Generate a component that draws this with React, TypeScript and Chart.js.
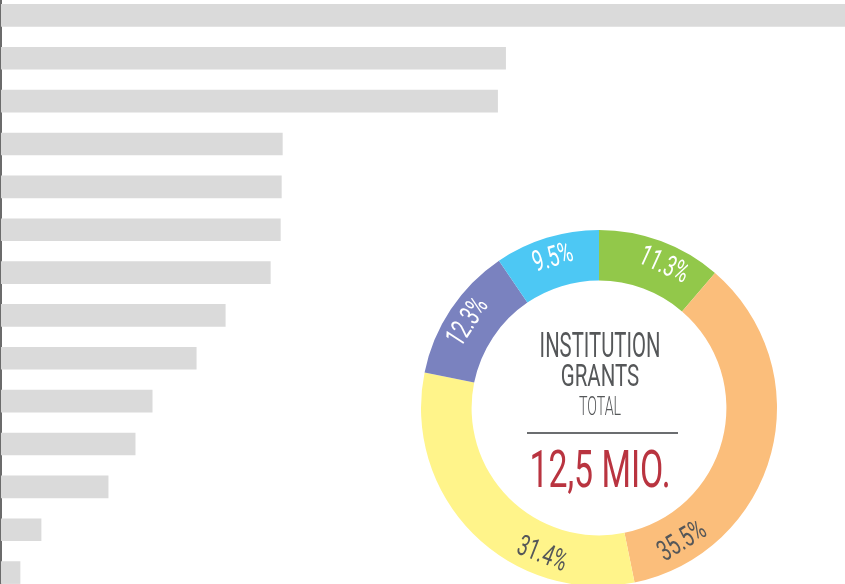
import React, { useEffect, useRef } from "react";
import { Chart, registerables } from "chart.js";

Chart.register(...registerables);

// Horizontal bar data (arbitrary units)
const barCategories = ["1", "2", "3", "4", "5", "6", "7", "8", "9", "10", "11", "12", "13", "14"];
const barValues = [843, 504, 496, 281, 280, 279, 269, 224, 195, 151, 134, 107, 40, 19];

// Doughnut data (percent shares)
const shareLabels = ["A", "B", "C", "D", "E"];
const shareValues = [11.3, 35.5, 31.4, 12.3, 9.5];
const shareColors = ["#92C84A", "#FBBE7B", "#FFF48A", "#7A82BF", "#4DC8F4"];
const shareTextColors = ["#FFFFFF", "#555759", "#555759", "#FFFFFF", "#FFFFFF"];
const labelFractions = [0.6, 0.84, 0.29, 0.49, 0.5];

const centerTitle1 = "INSTITUTION";
const centerTitle2 = "GRANTS";
const centerTitle3 = "TOTAL";
const centerValue = "12,5 MIO.";

const FONT = "Roboto, 'DejaVu Sans', sans-serif";

function drawCondensed(ctx: CanvasRenderingContext2D, text: string, x: number, y: number, font: string, color: string, sx: number) {
  ctx.save();
  ctx.font = font;
  ctx.fillStyle = color;
  ctx.textAlign = "center";
  ctx.translate(x, y);
  ctx.scale(sx, 1);
  ctx.fillText(text, 0, 0);
  ctx.restore();
}

const doughnutPlugin = {
  id: "doughnutDecor",
  afterDraw(chart: any) {
    const ctx: CanvasRenderingContext2D = chart.ctx;
    const meta = chart.getDatasetMeta(0);
    if (!meta.data.length) return;
    const arc0 = meta.data[0];
    const cx = arc0.x;
    const cy = arc0.y;
    const r = 157;
    meta.data.forEach((arc: any, i: number) => {
      const f = labelFractions[i] ?? 0.5;
      const th = arc.startAngle + f * (arc.endAngle - arc.startAngle);
      const x = cx + r * Math.cos(th);
      const y = cy + r * Math.sin(th);
      const rot = Math.sin(th) > 0 ? th - Math.PI / 2 : th + Math.PI / 2;
      ctx.save();
      ctx.translate(x, y);
      ctx.rotate(rot);
      ctx.scale(0.66, 1);
      ctx.font = `400 29px ${FONT}`;
      ctx.fillStyle = shareTextColors[i];
      ctx.textAlign = "center";
      ctx.textBaseline = "middle";
      ctx.fillText(shareValues[i].toFixed(1) + "%", 0, 1);
      ctx.restore();
    });
    ctx.save();
    ctx.textBaseline = "alphabetic";
    drawCondensed(ctx, centerTitle1, cx + 1, cy - 51, `400 35px ${FONT}`, "#555759", 0.58);
    drawCondensed(ctx, centerTitle2, cx + 1, cy - 22, `400 32px ${FONT}`, "#555759", 0.64);
    drawCondensed(ctx, centerTitle3, cx + 1, cy + 7, `300 25px ${FONT}`, "#555759", 0.57);
    ctx.strokeStyle = "#6B6D70";
    ctx.lineWidth = 2;
    ctx.beginPath();
    ctx.moveTo(cx - 72, cy + 25);
    ctx.lineTo(cx + 79, cy + 25);
    ctx.stroke();
    drawCondensed(ctx, centerValue, cx + 1, cy + 79, `400 52px ${FONT}`, "#B93440", 0.65);
    ctx.restore();
  },
};

export default function App() {
  const barRef = useRef<HTMLCanvasElement>(null);
  const donutRef = useRef<HTMLCanvasElement>(null);

  useEffect(() => {
    const bar = new Chart(barRef.current!, {
      type: "bar",
      data: {
        labels: barCategories,
        datasets: [
          {
            data: barValues,
            backgroundColor: "#DADADA",
            borderWidth: 0,
            barThickness: 22,
          },
        ],
      },
      options: {
        indexAxis: "y",
        animation: false,
        responsive: true,
        maintainAspectRatio: false,
        layout: { padding: { left: 1, right: 0, top: 0, bottom: 0 } },
        plugins: { legend: { display: false }, tooltip: { enabled: false } },
        scales: {
          x: { display: false, min: 0, max: Math.max(...barValues) },
          y: {
            display: true,
            ticks: { display: false, padding: 0 },
            grid: { display: false, drawTicks: false },
            border: { display: true, color: "#6B6B6B", width: 2 },
            afterFit: (scale: any) => {
              scale.width = 0;
            },
          },
        },
      },
    });
    const donut = new Chart(donutRef.current!, {
      type: "doughnut",
      data: {
        labels: shareLabels,
        datasets: [
          {
            data: shareValues,
            backgroundColor: shareColors,
            borderWidth: 0,
          },
        ],
      },
      options: {
        animation: false,
        responsive: true,
        maintainAspectRatio: false,
        radius: 178,
        cutout: 136,
        plugins: { legend: { display: false }, tooltip: { enabled: false } },
      },
      plugins: [doughnutPlugin],
    });
    return () => {
      bar.destroy();
      donut.destroy();
    };
  }, []);

  return (
    <div style={{ position: "fixed", left: 0, top: 0, width: 845, height: 584, overflow: "hidden", background: "#fff" }}>
      <div style={{ position: "absolute", left: 0, top: -6, width: 845, height: 600 }}>
        <canvas ref={barRef} />
      </div>
      <div style={{ position: "absolute", left: 409, top: 218, width: 380, height: 380 }}>
        <canvas ref={donutRef} />
      </div>
    </div>
  );
}
